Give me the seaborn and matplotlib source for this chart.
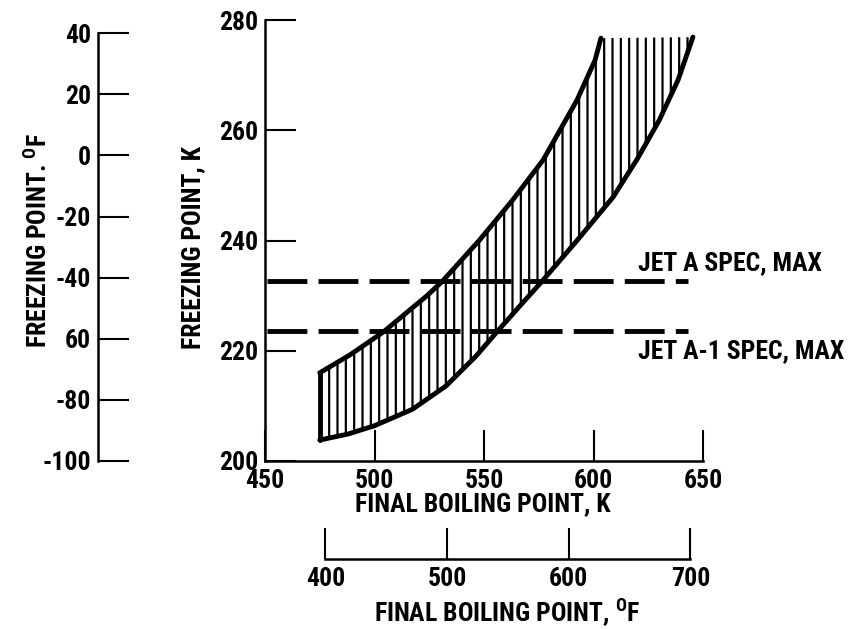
import matplotlib
matplotlib.use("Agg")
import matplotlib.pyplot as plt
from matplotlib import font_manager as fm
import seaborn as sns

# Freezing point band vs final boiling point (K)
upper_fbp = [475, 489, 504, 524, 531, 548, 563, 577, 592.5, 600.7, 603.4]
upper_fp = [216.0, 219.3, 223.4, 230.0, 232.6, 240.1, 247.3, 254.6, 265.5,
            272.7, 276.7]
lower_fbp = [475, 488, 500, 517.4, 532.6, 546.3, 555.4, 566.1, 576.5, 592.7,
             609, 620, 630, 638.6, 645.4]
lower_fp = [203.8, 204.9, 206.4, 209.4, 213.6, 219.0, 223.2, 228.0, 232.6,
            240.1, 247.9, 254.8, 261.8, 269.1, 276.9]

# Spec limits (K)
spec_names = ["JET A SPEC, MAX", "JET A-1 SPEC, MAX"]
spec_values = [232.6, 223.6]
spec_span = [451, 643]

# Tick values
k_xticks = [450, 500, 550, 600, 650]
k_yticks = [200, 220, 240, 260, 280]
f_yticks = [-100, -80, -60, -40, -20, 0, 20, 40]
f_ylabels = ["-100", "-80", "60", "-40", "-20", "0", "20", "40"]
f_xticks = [400, 500, 600, 700]


def k_to_f(k):
    return (k - 273.15) * 9 / 5 + 32


sns.set_theme(style="white")

# pick a narrow face if one is installed
names = {f.name for f in fm.fontManager.ttflist}
condensed = {f.name for f in fm.fontManager.ttflist if f.stretch == "condensed"
             or "Condensed" in f.fname or "Narrow" in f.fname}
fs = 18.5
if "Liberation Sans Narrow" in names:
    main_font = "Liberation Sans Narrow"
elif "Roboto Condensed" in names:
    main_font = "Roboto Condensed"
elif "DejaVu Sans" in condensed:
    main_font = "DejaVu Sans"
    plt.rcParams["font.stretch"] = "condensed"
else:
    main_font = "DejaVu Sans"
    fs = 15
plt.rcParams["font.family"] = [main_font, "DejaVu Sans"]
plt.rcParams["font.weight"] = "bold"
plt.rcParams["mathtext.fontset"] = "custom"
plt.rcParams["mathtext.rm"] = main_font + ":bold"
plt.rcParams["text.color"] = "black"
plt.rcParams["axes.labelcolor"] = "black"
plt.rcParams["hatch.linewidth"] = 1.6
plt.rcParams["hatch.color"] = "black"

W, H = 862, 629
fig = plt.figure(figsize=(W / 100, H / 100), dpi=100)

# main axes (K)
ax = fig.add_axes([265 / W, 168 / H, 438 / W, 441 / H])
ax.set_xlim(450, 650)
ax.set_ylim(200, 280)

# hatched band
poly_x = upper_fbp + lower_fbp[::-1]
poly_y = upper_fp + lower_fp[::-1]
ax.fill(poly_x, poly_y, facecolor="none", edgecolor="black",
        hatch="||", linewidth=0)

sns.lineplot(x=upper_fbp, y=upper_fp, ax=ax, color="black", lw=3.5,
             sort=False, estimator=None)
sns.lineplot(x=lower_fbp, y=lower_fp, ax=ax, color="black", lw=3.5,
             sort=False, estimator=None)
ax.plot([lower_fbp[0], upper_fbp[0]], [lower_fp[0], upper_fp[0]],
        color="black", lw=3.5, solid_capstyle="round")

# spec lines
for v in spec_values:
    ax.plot(spec_span, [v, v], color="black", lw=3.5, dashes=(8.2, 2.3))

ax.text(620.3, 235.9, spec_names[0], fontsize=fs, fontweight="bold",
        va="center", ha="left", clip_on=False)
ax.text(620.3, 219.9, spec_names[1], fontsize=fs, fontweight="bold",
        va="center", ha="left", clip_on=False)

for s in ["top", "right"]:
    ax.spines[s].set_visible(False)
for s in ["left", "bottom"]:
    ax.spines[s].set_color("black")
    ax.spines[s].set_linewidth(1.8)
ax.set_xticks(k_xticks)
ax.set_yticks(k_yticks)
ax.tick_params(direction="in", length=22, width=1.5, colors="black",
               labelsize=fs, pad=5, bottom=True, left=True)
ax.tick_params(axis="x", pad=6)
ax.set_xlabel("FINAL BOILING POINT, K", fontsize=fs, fontweight="bold")
ax.set_ylabel("FREEZING POINT, K", fontsize=fs, fontweight="bold")
ax.xaxis.set_label_coords(483 / W, 1 - 504 / H, transform=fig.transFigure)
ax.yaxis.set_label_coords(193 / W, 1 - 247 / H, transform=fig.transFigure)
ax.xaxis.label.set_va("center")
ax.yaxis.label.set_va("center")

# left axis (deg F)
axf = fig.add_axes([98 / W, 168 / H, 0.01, 441 / H])
axf.set_ylim(k_to_f(200), k_to_f(280))
axf.patch.set_visible(False)
for s in ["top", "right", "bottom"]:
    axf.spines[s].set_visible(False)
axf.spines["left"].set_color("black")
axf.spines["left"].set_linewidth(1.8)
axf.spines["left"].set_bounds(-100, 40)
axf.set_xticks([])
axf.set_yticks(f_yticks)
axf.set_yticklabels(f_ylabels)
axf.tick_params(axis="y", direction="in", length=22, width=1.5,
                colors="black", labelsize=fs, pad=5, left=True)
axf.set_ylabel("FREEZING POINT. $^{\\rm O}$F", fontsize=fs,
               fontweight="bold")
axf.yaxis.set_label_coords(38 / W, 1 - 240 / H, transform=fig.transFigure)
axf.yaxis.label.set_va("center")

# bottom axis (deg F)
axb = fig.add_axes([265 / W, 70 / H, 438 / W, 0.01])
axb.set_xlim(k_to_f(450), k_to_f(650))
axb.patch.set_visible(False)
for s in ["top", "right", "left"]:
    axb.spines[s].set_visible(False)
axb.spines["bottom"].set_color("black")
axb.spines["bottom"].set_linewidth(1.8)
axb.spines["bottom"].set_bounds(400, 700)
axb.set_yticks([])
axb.set_xticks(f_xticks)
axb.tick_params(axis="x", direction="in", length=22, width=1.5,
                colors="black", labelsize=fs, pad=6, bottom=True)
axb.set_xlabel("FINAL BOILING POINT, $^{\\rm O}$F", fontsize=fs,
               fontweight="bold")
axb.xaxis.set_label_coords(507 / W, 1 - 613 / H, transform=fig.transFigure)
axb.xaxis.label.set_va("center")

fig.savefig("out.png", dpi=100)
